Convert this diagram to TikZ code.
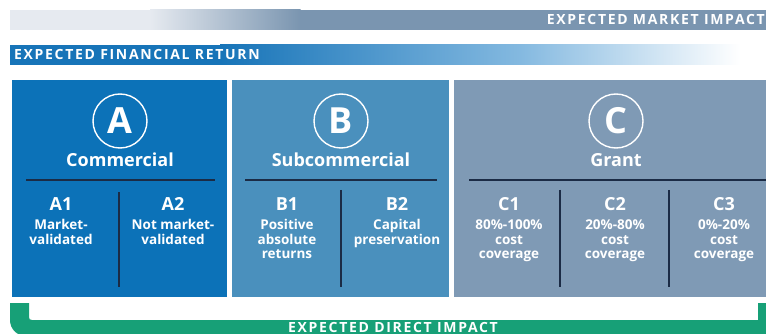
\documentclass[tikz,border=0pt]{standalone}
\usepackage{fontspec}
\setmainfont{Open Sans}
\usetikzlibrary{positioning}

\definecolor{boxA}{HTML}{0C72B8}
\definecolor{boxB}{HTML}{4A90BD}
\definecolor{boxC}{HTML}{7F9AB5}
\definecolor{slate}{HTML}{7A95B0}
\definecolor{slatelight}{HTML}{E6EAF0}
\definecolor{finblue}{HTML}{1774B8}
\definecolor{finlight}{HTML}{84B9E0}
\definecolor{navy}{HTML}{1B2B45}
\definecolor{impact}{HTML}{17A077}

\begin{document}
\begin{tikzpicture}[x=1pt,y=-1pt,node distance=4pt,
    letter node/.style={circle,draw=white,line width=1.4pt,text=white,minimum size=54pt,inner sep=0pt,
        font=\bfseries\fontsize{36}{36}\selectfont},
    title node/.style={anchor=base,text=white,font=\bfseries\fontsize{18}{18}\selectfont},
    sub node/.style={anchor=base,text=white,font=\bfseries\fontsize{18}{18}\selectfont},
    note node/.style={text=white,align=center,inner sep=1pt,font=\bfseries\fontsize{13.5}{14.5}\selectfont},
    bar text/.style={text=white,inner sep=0pt,font=\bfseries\fontsize{14}{14}\selectfont\addfontfeatures{LetterSpace=12}},
    divider/.style={draw=navy,line width=1.6pt}]

\useasboundingbox (0,0) rectangle (766,334);
\clip (0,0) rectangle (766,334);

% bands on top
\fill[slatelight] (10,10) rectangle (150.5,30);
\shade[left color=slatelight,right color=slate] (150,10) rectangle (300.5,30);
\fill[slate] (300,10) rectangle (770,30);
\node[bar text,anchor=east] (market) at (765,20) {EXPECTED MARKET IMPACT};

\fill[finblue] (10,45) rectangle (220.5,65);
\shade[left color=finblue,right color=finlight] (220,45) rectangle (520.5,65);
\shade[left color=finlight,right color=white] (520,45) rectangle (740,65);
\node[bar text,anchor=west] (financial) at (14,55) {EXPECTED FINANCIAL RETURN};

% the three panels
\fill[boxA] (12,80) rectangle (227,297);
\fill[boxB] (232,80) rectangle (449,297);
\fill[boxC] (454,80) rectangle (770,297);

\node[letter node] (A) at (120,121) {A};
\node[letter node] (B) at (341,121) {B};
\node[letter node] (C) at (616,121) {C};

\node[title node] (commercial)    at (120,167) {Commercial};
\node[title node] (subcommercial) at (341,167) {Subcommercial};
\node[title node] (grant)         at (616,167) {Grant};

\draw[divider] (26,180) -- (215,180);
\draw[divider] (245,180) -- (437,180);
\draw[divider] (469,180) -- (770,180);
\draw[divider] (119,192) -- (119,287);
\draw[divider] (341,190) -- (341,287);
\draw[divider] (560,190) -- (560,287);
\draw[divider] (669,190) -- (669,287);

\node[sub node] (A1) at (61,211)  {A1};
\node[sub node] (A2) at (173,211) {A2};
\node[sub node] (B1) at (287,211) {B1};
\node[sub node] (B2) at (397,211) {B2};
\node[sub node] (C1) at (509,211) {C1};
\node[sub node] (C2) at (615,211) {C2};
\node[sub node] (C3) at (724,211) {C3};

\node[note node] (A1t) [below=of A1] {Market-\\validated};
\node[note node] (A2t) [below=of A2] {Not market-\\validated};
\node[note node] (B1t) [below=of B1] {Positive\\absolute\\returns};
\node[note node] (B2t) [below=of B2] {Capital\\preservation};
\node[note node] (C1t) [below=of C1] {80\%-100\%\\cost\\coverage};
\node[note node] (C2t) [below=of C2] {20\%-80\%\\cost\\coverage};
\node[note node] (C3t) [below=of C3] {0\%-20\%\\cost\\coverage};

% bracket at the bottom
\fill[impact] (10,303) -- (29,303) -- (29,317) .. controls (29,319) and (30,320) .. (32,320)
  -- (758,320) -- (758,303) -- (770,303) -- (770,336) -- (26,336)
  .. controls (17,336) and (10,329) .. (10,320) -- cycle;
\node[bar text,anchor=base] (direct) at (393,332) {EXPECTED DIRECT IMPACT};
\end{tikzpicture}
\end{document}
